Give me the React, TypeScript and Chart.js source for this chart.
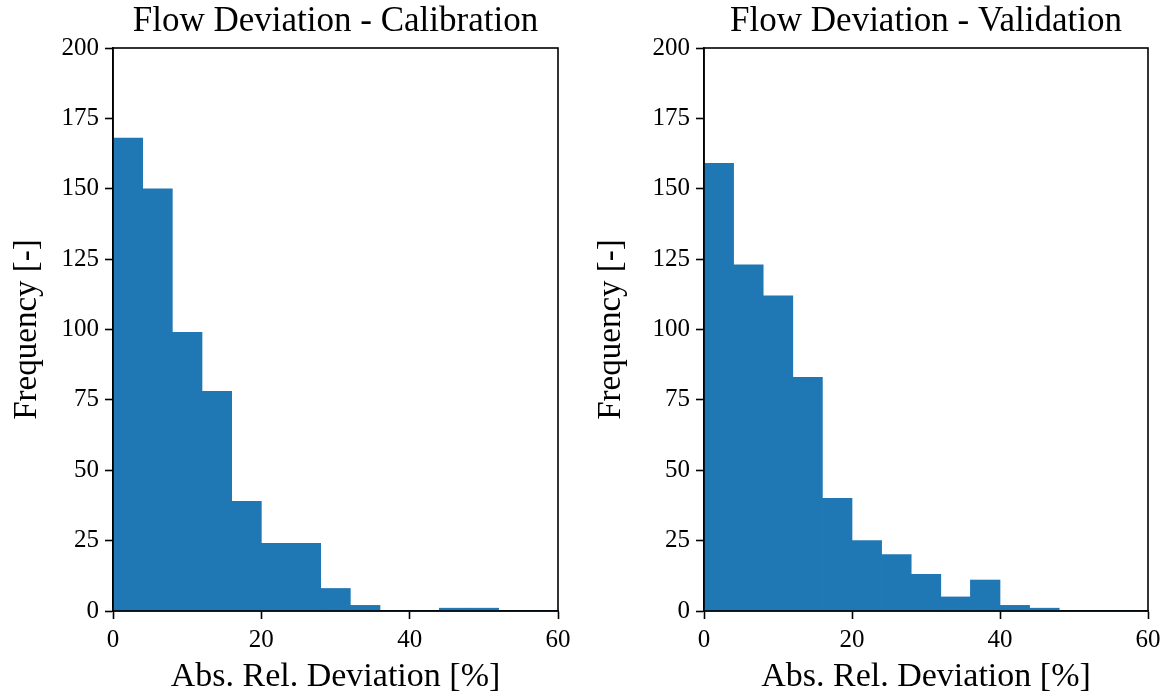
import React, { useEffect, useRef } from "react";
import { Chart, registerables } from "chart.js";

Chart.register(...registerables);

const binEdges = [0, 4, 8, 12, 16, 20, 24, 28, 32, 36, 40, 44, 48, 52, 56, 60];
const calibrationCounts = [168, 150, 99, 78, 39, 24, 24, 8, 2, 0, 0, 1, 1, 0, 0];
const validationCounts = [159, 123, 112, 83, 40, 25, 20, 13, 5, 11, 2, 1, 0, 0, 0];
const xTicks = [0, 20, 40, 60];
const yTicks = [0, 25, 50, 75, 100, 125, 150, 175, 200];
const titles = ["Flow Deviation - Calibration", "Flow Deviation - Validation"];
const xLabel = "Abs. Rel. Deviation [%]";
const yLabel = "Frequency [-]";

const FONT = "'Liberation Serif', serif";
const BAR = "#1f77b4";

const frame = {
  id: "frame",
  afterDraw(chart: any) {
    const { ctx, chartArea } = chart;
    ctx.save();
    ctx.strokeStyle = "#000";
    ctx.lineWidth = 1.6;
    ctx.strokeRect(chartArea.left, chartArea.top, chartArea.right - chartArea.left, chartArea.bottom - chartArea.top);
    ctx.restore();
  },
};

function Hist({ counts, title, yWidth, padRight, w }: any) {
  const ref = useRef<HTMLCanvasElement>(null);
  useEffect(() => {
    const data = counts.map((c: number, i: number) => ({ x: (binEdges[i] + binEdges[i + 1]) / 2, y: c }));
    const chart = new Chart(ref.current!, {
      type: "bar",
      data: {
        datasets: [
          {
            data,
            backgroundColor: BAR,
            borderWidth: 0,
            barPercentage: 1,
            categoryPercentage: 1,
          },
        ],
      },
      options: {
        animation: false,
        responsive: false,
        layout: { padding: { left: 0, right: padRight, top: 0, bottom: 0 } },
        plugins: {
          legend: { display: false },
          tooltip: { enabled: false },
          title: {
            display: true,
            text: title,
            fullSize: false,
            color: "#000",
            font: { family: FONT, size: 35, weight: "normal", lineHeight: 1 },
            padding: { top: 4, bottom: 9 },
          },
        },
        scales: {
          x: {
            type: "linear",
            min: 0,
            max: 60,
            offset: false,
            afterBuildTicks: (s: any) => {
              s.ticks = xTicks.map((v) => ({ value: v }));
            },
            afterFit: (s: any) => {
              s.height = 86;
            },
            grid: { offset: false, drawOnChartArea: false, drawTicks: true, tickLength: 8, tickWidth: 1.6, tickColor: "#000" },
            border: { display: true, color: "#000", width: 1.6 },
            ticks: { color: "#000", font: { family: FONT, size: 25 }, padding: 6, maxRotation: 0 },
            title: { display: true, text: xLabel, color: "#000", font: { family: FONT, size: 34, lineHeight: 1 }, padding: { top: 0, bottom: 3 } },
          },
          y: {
            min: 0,
            max: 200,
            afterBuildTicks: (s: any) => {
              s.ticks = yTicks.map((v) => ({ value: v }));
            },
            afterFit: (s: any) => {
              s.width = yWidth;
            },
            grid: { offset: false, drawOnChartArea: false, drawTicks: true, tickLength: 8, tickWidth: 1.6, tickColor: "#000" },
            border: { display: true, color: "#000", width: 1.6 },
            ticks: { color: "#000", font: { family: FONT, size: 25 }, padding: 6 },
            title: { display: true, text: yLabel, color: "#000", font: { family: FONT, size: 33, lineHeight: 1 }, padding: { top: 11, bottom: 0 } },
          },
        },
      },
      plugins: [frame],
    });
    return () => chart.destroy();
  }, []);
  return <canvas ref={ref} width={w} height={697} style={{ display: "block", width: w, height: 697 }} />;
}

export default function App() {
  return (
    <div style={{ position: "fixed", left: 0, top: 0, width: 1169, height: 697, background: "#fff", display: "flex" }}>
      <Hist counts={calibrationCounts} title={titles[0]} yWidth={113} padRight={26} w={584} />
      <Hist counts={validationCounts} title={titles[1]} yWidth={120} padRight={21} w={585} />
    </div>
  );
}
